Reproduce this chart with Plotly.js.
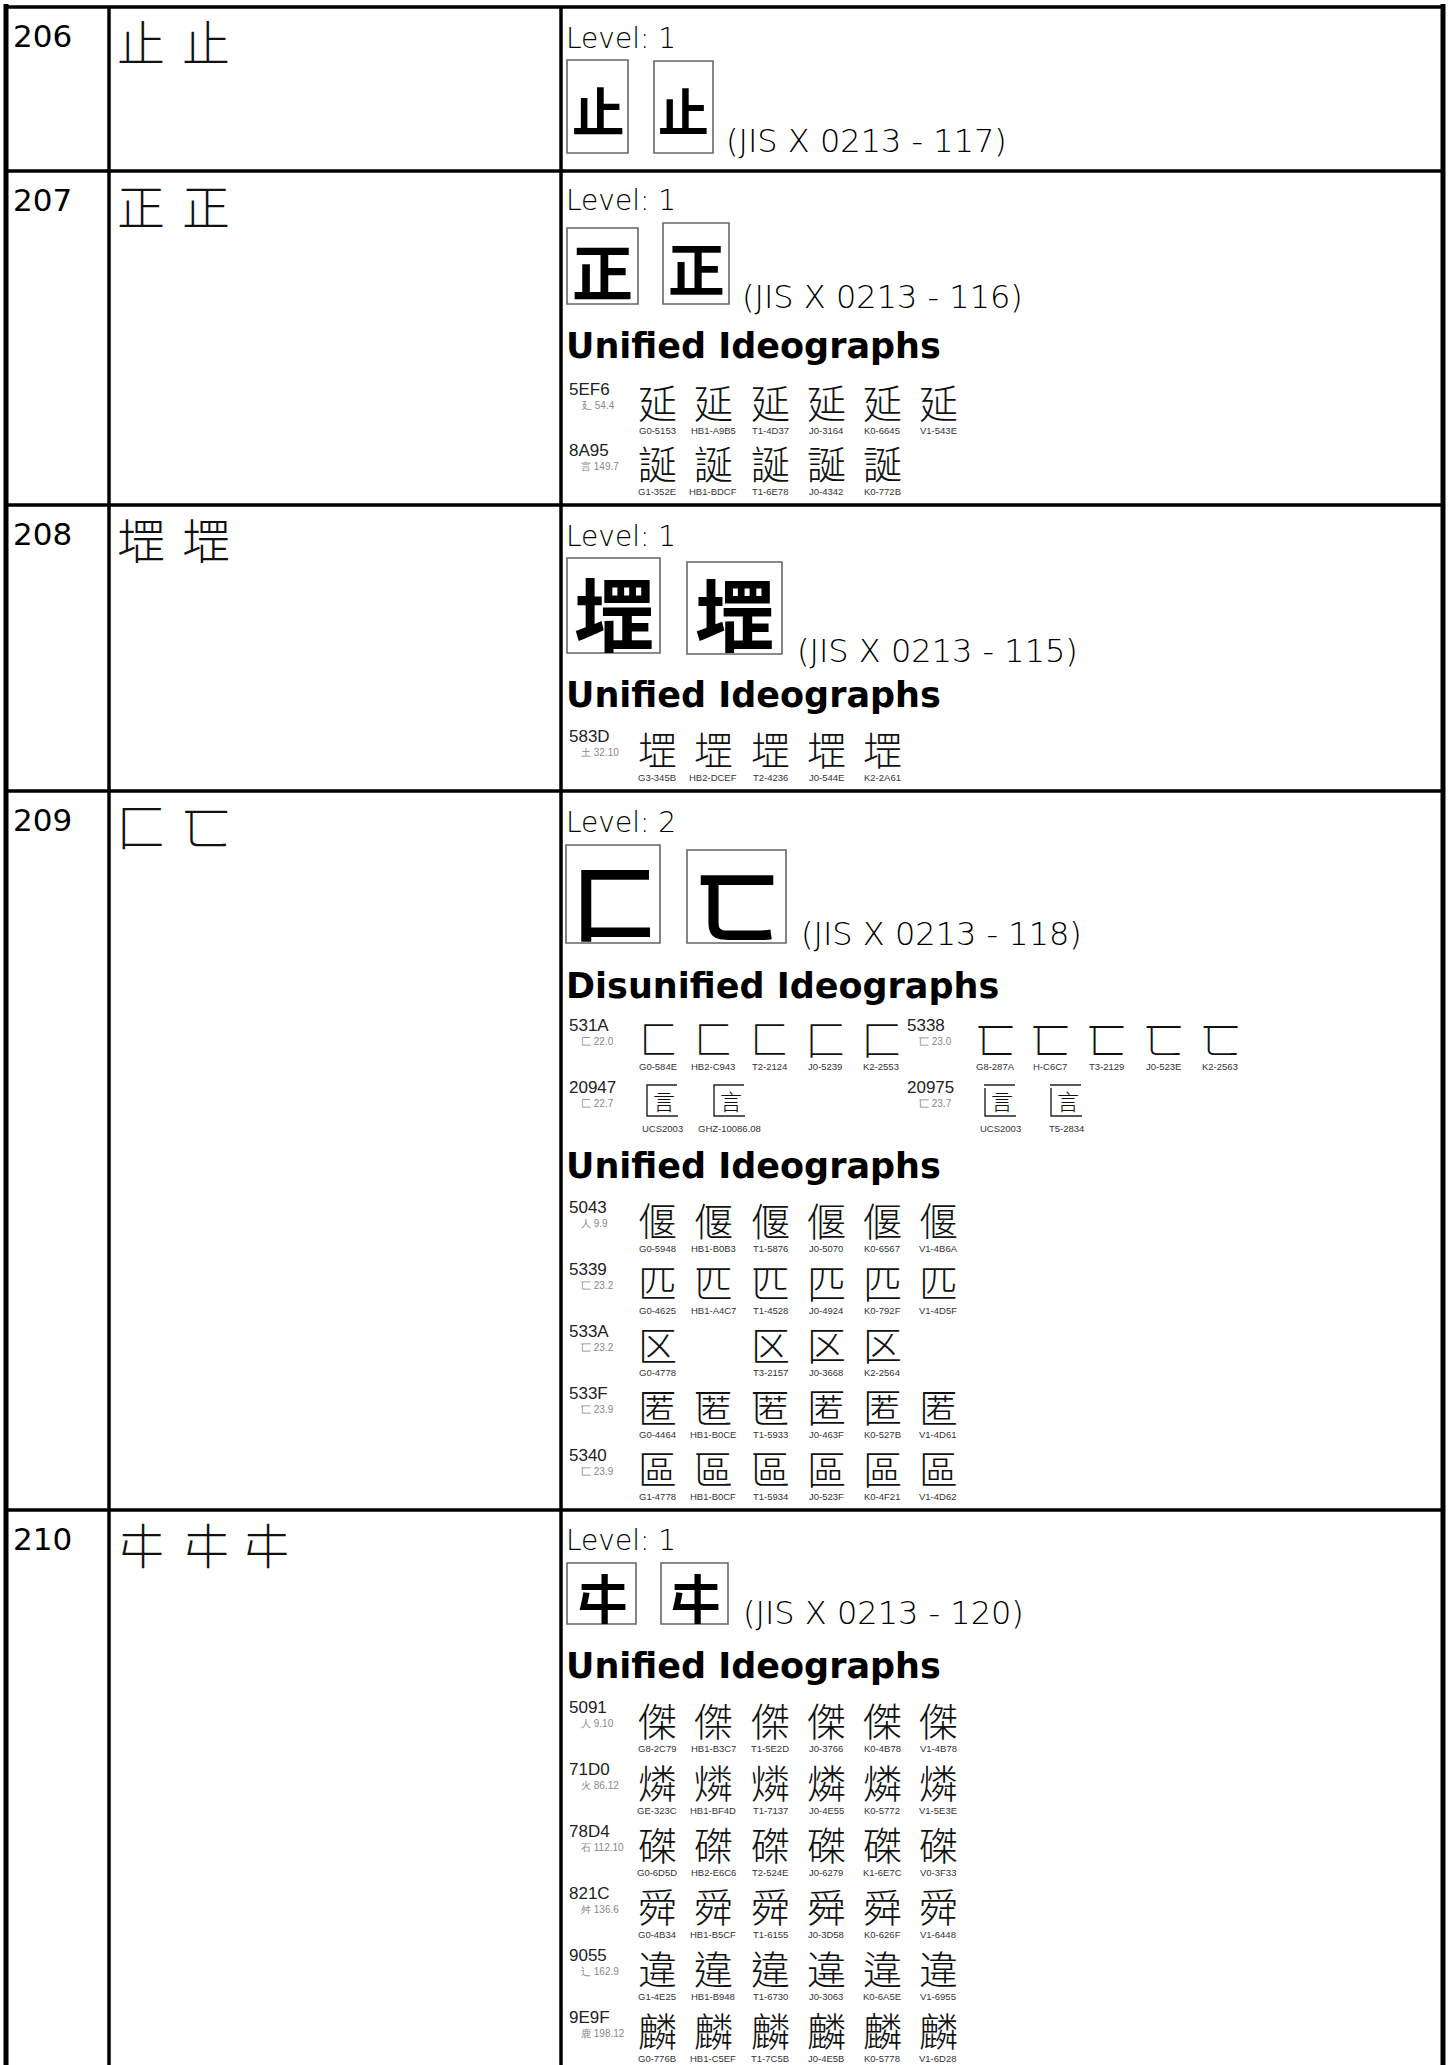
<!DOCTYPE html>
<html><head><meta charset="utf-8">
<script src="https://cdn.plot.ly/plotly-3.0.1.min.js"></script>
<style>html,body{margin:0;padding:0;background:#fff;} #chart{width:1454px;height:2065px;}</style>
</head><body><div id="chart"></div>
<script>
// ================= DATA =================
const rowNumbers = ['206', '207', '208', '209', '210'];
const headGlyphs = [['止', '止'], ['正', '正'], ['堽', '堽'], ['匚', '匸'], ['㐄', '㐄', '㐄']];
const jisLevels = [1, 1, 1, 2, 1];
const jisNumbers = [117, 116, 115, 118, 120];
const boxGlyphs = [['止', '止'], ['正', '正'], ['堽', '堽'], ['匚', '匸'], ['㐄', '㐄']];
const sectionTitles = [[], ['Unified Ideographs'], ['Unified Ideographs'], ['Disunified Ideographs', 'Unified Ideographs'], ['Unified Ideographs']];

// row 207 – unified
const codes207 = ['5EF6', '8A95'];
const radicals207 = ['廴 54.4', '言 149.7'];
const sources207 = [
  ['G0-5153', 'HB1-A9B5', 'T1-4D37', 'J0-3164', 'K0-6645', 'V1-543E'],
  ['G1-352E', 'HB1-BDCF', 'T1-6E78', 'J0-4342', 'K0-772B', null]
];
// row 208 – unified
const codes208 = ['583D'];
const radicals208 = ['土 32.10'];
const sources208 = [
  ['G3-345B', 'HB2-DCEF', 'T2-4236', 'J0-544E', 'K2-2A61', null]
];
// row 209 – disunified (two groups per line)
const disCodes209 = [['531A', '5338'], ['20947', '20975']];
const disRadicals209 = [['匚 22.0', '匸 23.0'], ['匚 22.7', '匸 23.7']];
const disSources209 = [
  [['G0-584E', 'HB2-C943', 'T2-2124', 'J0-5239', 'K2-2553'], ['G8-287A', 'H-C6C7', 'T3-2129', 'J0-523E', 'K2-2563']],
  [['UCS2003', 'GHZ-10086.08'], ['UCS2003', 'T5-2834']]
];
// Extension-B ideographs have no installed font: drawn as enclosure frame + inner component
const extBComponents = {'20947': ['匚', '言'], '20975': ['匸', '言']};
// row 209 – unified
const codes209 = ['5043', '5339', '533A', '533F', '5340'];
const radicals209 = ['人 9.9', '匸 23.2', '匸 23.2', '匸 23.9', '匸 23.9'];
const sources209 = [
  ['G0-5948', 'HB1-B0B3', 'T1-5876', 'J0-5070', 'K0-6567', 'V1-4B6A'],
  ['G0-4625', 'HB1-A4C7', 'T1-4528', 'J0-4924', 'K0-792F', 'V1-4D5F'],
  ['G0-4778', null, 'T3-2157', 'J0-3668', 'K2-2564', null],
  ['G0-4464', 'HB1-B0CE', 'T1-5933', 'J0-463F', 'K0-527B', 'V1-4D61'],
  ['G1-4778', 'HB1-B0CF', 'T1-5934', 'J0-523F', 'K0-4F21', 'V1-4D62']
];
// row 210 – unified
const codes210 = ['5091', '71D0', '78D4', '821C', '9055', '9E9F'];
const radicals210 = ['人 9.10', '火 86.12', '石 112.10', '舛 136.6', '⻌ 162.9', '鹿 198.12'];
const sources210 = [
  ['G8-2C79', 'HB1-B3C7', 'T1-5E2D', 'J0-3766', 'K0-4B78', 'V1-4B78'],
  ['GE-323C', 'HB1-BF4D', 'T1-7137', 'J0-4E55', 'K0-5772', 'V1-5E3E'],
  ['G0-6D5D', 'HB2-E6C6', 'T2-524E', 'J0-6279', 'K1-6E7C', 'V0-3F33'],
  ['G0-4B34', 'HB1-B5CF', 'T1-6155', 'J0-3D58', 'K0-626F', 'V1-6448'],
  ['G1-4E25', 'HB1-B948', 'T1-6730', 'J0-3063', 'K0-6A5E', 'V1-6955'],
  ['G0-776B', 'HB1-C5EF', 'T1-7C5B', 'J0-4E5B', 'K0-5778', 'V1-6D28']
];

// ================= GEOMETRY / STYLE =================
const W = 1454, H = 2065;
const X_LEFT = 6, X_C1 = 109, X_C2 = 561, X_RIGHT = 1443;
const ROW_TOPS = [7, 171, 505, 791, 1510];
const CELL_X = 567;
const HEAD_X = [141, 206, 266];
const GRID_X = [657, 713, 770, 826, 882, 938];
const DIS_GROUP_X0 = [568, 906];
const DIS_X = [[[658, 713, 769, 825, 881], [995, 1050, 1106, 1163, 1220]], [[662, 729], [1000, 1066]]];
const rowGeom = [
  {level: 48, boxes: [[567, 628, 60, 153], [654, 713, 61, 153]], jis: [725, 152], heads: []},
  {level: 210, boxes: [[567, 638, 228, 304], [663, 729, 223, 304]], jis: [741, 308], heads: [358], gridY0: 389, pitch: 61},
  {level: 546, boxes: [[567, 660, 558, 653], [687, 782, 562, 654]], jis: [796, 662], heads: [707], gridY0: 736, pitch: 62},
  {level: 832, boxes: [[566, 660, 845, 943], [687, 786, 850, 943]], jis: [800, 945], heads: [998, 1178], disY: [1025, 1087], gridY0: 1207, pitch: 62},
  {level: 1550, boxes: [[567, 636, 1563, 1624], [661, 728, 1563, 1624]], jis: [742, 1624], heads: [1678], gridY0: 1707, pitch: 62}
];

const LATIN = 'DejaVu Sans, Liberation Sans, sans-serif';
const ARIAL = 'Liberation Sans, Arial, sans-serif';
const NARROW = 'Liberation Sans Narrow, Liberation Sans, Arial, sans-serif';
const CJK = {
  G: 'Noto Sans CJK SC, Noto Sans CJK JP, sans-serif',
  H: 'Noto Sans CJK TC, Noto Sans CJK JP, sans-serif',
  T: 'Noto Sans CJK TC, Noto Sans CJK JP, sans-serif',
  J: 'Noto Sans CJK JP, Noto Sans CJK SC, sans-serif',
  K: 'Noto Sans CJK KR, Noto Sans CJK JP, sans-serif',
  V: 'Noto Sans CJK SC, Noto Sans CJK JP, sans-serif',
  U: 'Noto Sans CJK JP, Noto Sans CJK SC, Noto Sans CJK TC, sans-serif'
};
const CJK_JP = CJK.J;
const GLYPH_SIZE = 39;

// ================= BUILD =================
const shapes = [];
const annotations = [];

function txt(x, y, text, size, opts) {
  opts = opts || {};
  annotations.push({
    x: x, y: y, xref: 'x', yref: 'y', text: text, showarrow: false,
    xanchor: opts.xanchor || 'left', yanchor: 'middle', borderpad: 0,
    font: {family: opts.family || LATIN, size: size, color: opts.color || '#000', weight: opts.weight || 400}
  });
}
function fromBase(base, size) { return base - 0.346 * size; }
function line(x0, y0, x1, y1, w) {
  shapes.push({type: 'line', xref: 'x', yref: 'y', x0: x0, y0: y0, x1: x1, y1: y1, line: {color: '#000', width: w}});
}
function cjkFor(src) {
  if (!src) return CJK_JP;
  return CJK[src.charAt(0)] || CJK_JP;
}
function glyphOf(code) { return String.fromCodePoint(parseInt(code, 16)); }

function drawGlyph(x, y, code, src) {
  const fam = cjkFor(src);
  const comp = extBComponents[code];
  if (comp) {
    // enclosure frame drawn as a stroke path, inner component as text
    const cx = x, cy = y + 1, h = 15;
    const p = comp[0] === '匚'
      ? 'M' + (cx + h) + ',' + (cy - h) + ' L' + (cx - h) + ',' + (cy - h) + ' L' + (cx - h) + ',' + (cy + h + 1) + ' L' + (cx + h + 1) + ',' + (cy + h + 1)
      : 'M' + (cx + h) + ',' + (cy - h) + ' L' + (cx - h - 1) + ',' + (cy - h) + ' M' + (cx - h) + ',' + (cy - h + 3) + ' L' + (cx - h) + ',' + (cy + h + 1) + ' L' + (cx + h + 1) + ',' + (cy + h + 1);
    shapes.push({type: 'path', xref: 'x', yref: 'y', path: p, line: {color: '#222', width: 1.4}});
    txt(x + 2, y + 1, comp[1], 22, {family: fam, xanchor: 'center', color: '#111', weight: 300});
  } else {
    txt(x, y, glyphOf(code), GLYPH_SIZE, {family: fam, xanchor: 'center', color: '#111', weight: 300});
  }
}

function glyphLine(x0, cols, y, code, radical, sources) {
  txt(x0, y, code, 17, {family: ARIAL, color: '#222'});
  txt(x0 + 12, y + 16, radical, 10, {family: ARIAL, color: '#888'});
  sources.forEach(function (s, i) {
    if (!s || cols[i] === undefined) return;
    drawGlyph(cols[i], y + 12, code, s);
    txt(cols[i], y + 41, s, 9.5, {family: NARROW, xanchor: 'center', color: '#333'});
  });
}

// table grid
line(X_LEFT, 4, X_LEFT, H, 5);
line(X_RIGHT, 4, X_RIGHT, H, 5);
line(X_LEFT - 2, ROW_TOPS[0], X_RIGHT + 2, ROW_TOPS[0], 3.5);
line(X_C1, ROW_TOPS[0], X_C1, H, 3.5);
line(X_C2, ROW_TOPS[0], X_C2, H, 3.5);
ROW_TOPS.slice(1).forEach(function (y) { line(X_LEFT, y, X_RIGHT, y, 3.5); });

const unifiedCodes = [null, codes207, codes208, codes209, codes210];
const unifiedRadicals = [null, radicals207, radicals208, radicals209, radicals210];
const unifiedSources = [null, sources207, sources208, sources209, sources210];

rowNumbers.forEach(function (num, r) {
  const top = ROW_TOPS[r];
  const g = rowGeom[r];
  txt(12, fromBase(top + 40, 31), num, 31, {family: LATIN});
  headGlyphs[r].forEach(function (ch, i) {
    txt(HEAD_X[i], top + 33, ch, 48, {family: CJK_JP, xanchor: 'center', weight: 300, color: '#111'});
  });
  txt(CELL_X - 2, fromBase(g.level, 28), 'Level: ' + jisLevels[r], 28, {family: LATIN, weight: 200});
  g.boxes.forEach(function (b, i) {
    shapes.push({type: 'rect', xref: 'x', yref: 'y', x0: b[0], x1: b[1], y0: b[2], y1: b[3],
      line: {color: '#666', width: 1.6}, fillcolor: '#fff', layer: 'below'});
    const sz = Math.min(b[1] - b[0], b[3] - b[2]) * 0.86;
    txt((b[0] + b[1]) / 2, (b[2] + b[3]) / 2 + sz * 0.05, boxGlyphs[r][i], sz,
      {family: CJK_JP, xanchor: 'center', weight: 700, color: '#000'});
  });
  txt(g.jis[0], fromBase(g.jis[1], 32), '(JIS X 0213 - ' + jisNumbers[r] + ')', 32, {family: LATIN, weight: 200});
  sectionTitles[r].forEach(function (t, i) {
    txt(CELL_X - 2, fromBase(g.heads[i], 35), t, 35, {family: LATIN, weight: 700});
  });
  if (g.disY) {
    disCodes209.forEach(function (pair, li) {
      pair.forEach(function (code, gi) {
        glyphLine(DIS_GROUP_X0[gi], DIS_X[li][gi], g.disY[li], code, disRadicals209[li][gi], disSources209[li][gi]);
      });
    });
  }
  if (unifiedCodes[r]) {
    unifiedCodes[r].forEach(function (code, k) {
      glyphLine(568, GRID_X, g.gridY0 + k * g.pitch, code, unifiedRadicals[r][k], unifiedSources[r][k]);
    });
  }
});

const layout = {
  width: W, height: H,
  margin: {l: 0, r: 0, t: 0, b: 0, pad: 0},
  paper_bgcolor: '#fff', plot_bgcolor: '#fff',
  showlegend: false,
  xaxis: {range: [0, W], visible: false, fixedrange: true},
  yaxis: {range: [H, 0], visible: false, fixedrange: true},
  shapes: shapes,
  annotations: annotations
};
Plotly.newPlot('chart', [{x: [], y: [], type: 'scatter', mode: 'markers', hoverinfo: 'skip'}], layout,
  {displayModeBar: false, staticPlot: true});
</script>
</body></html>
